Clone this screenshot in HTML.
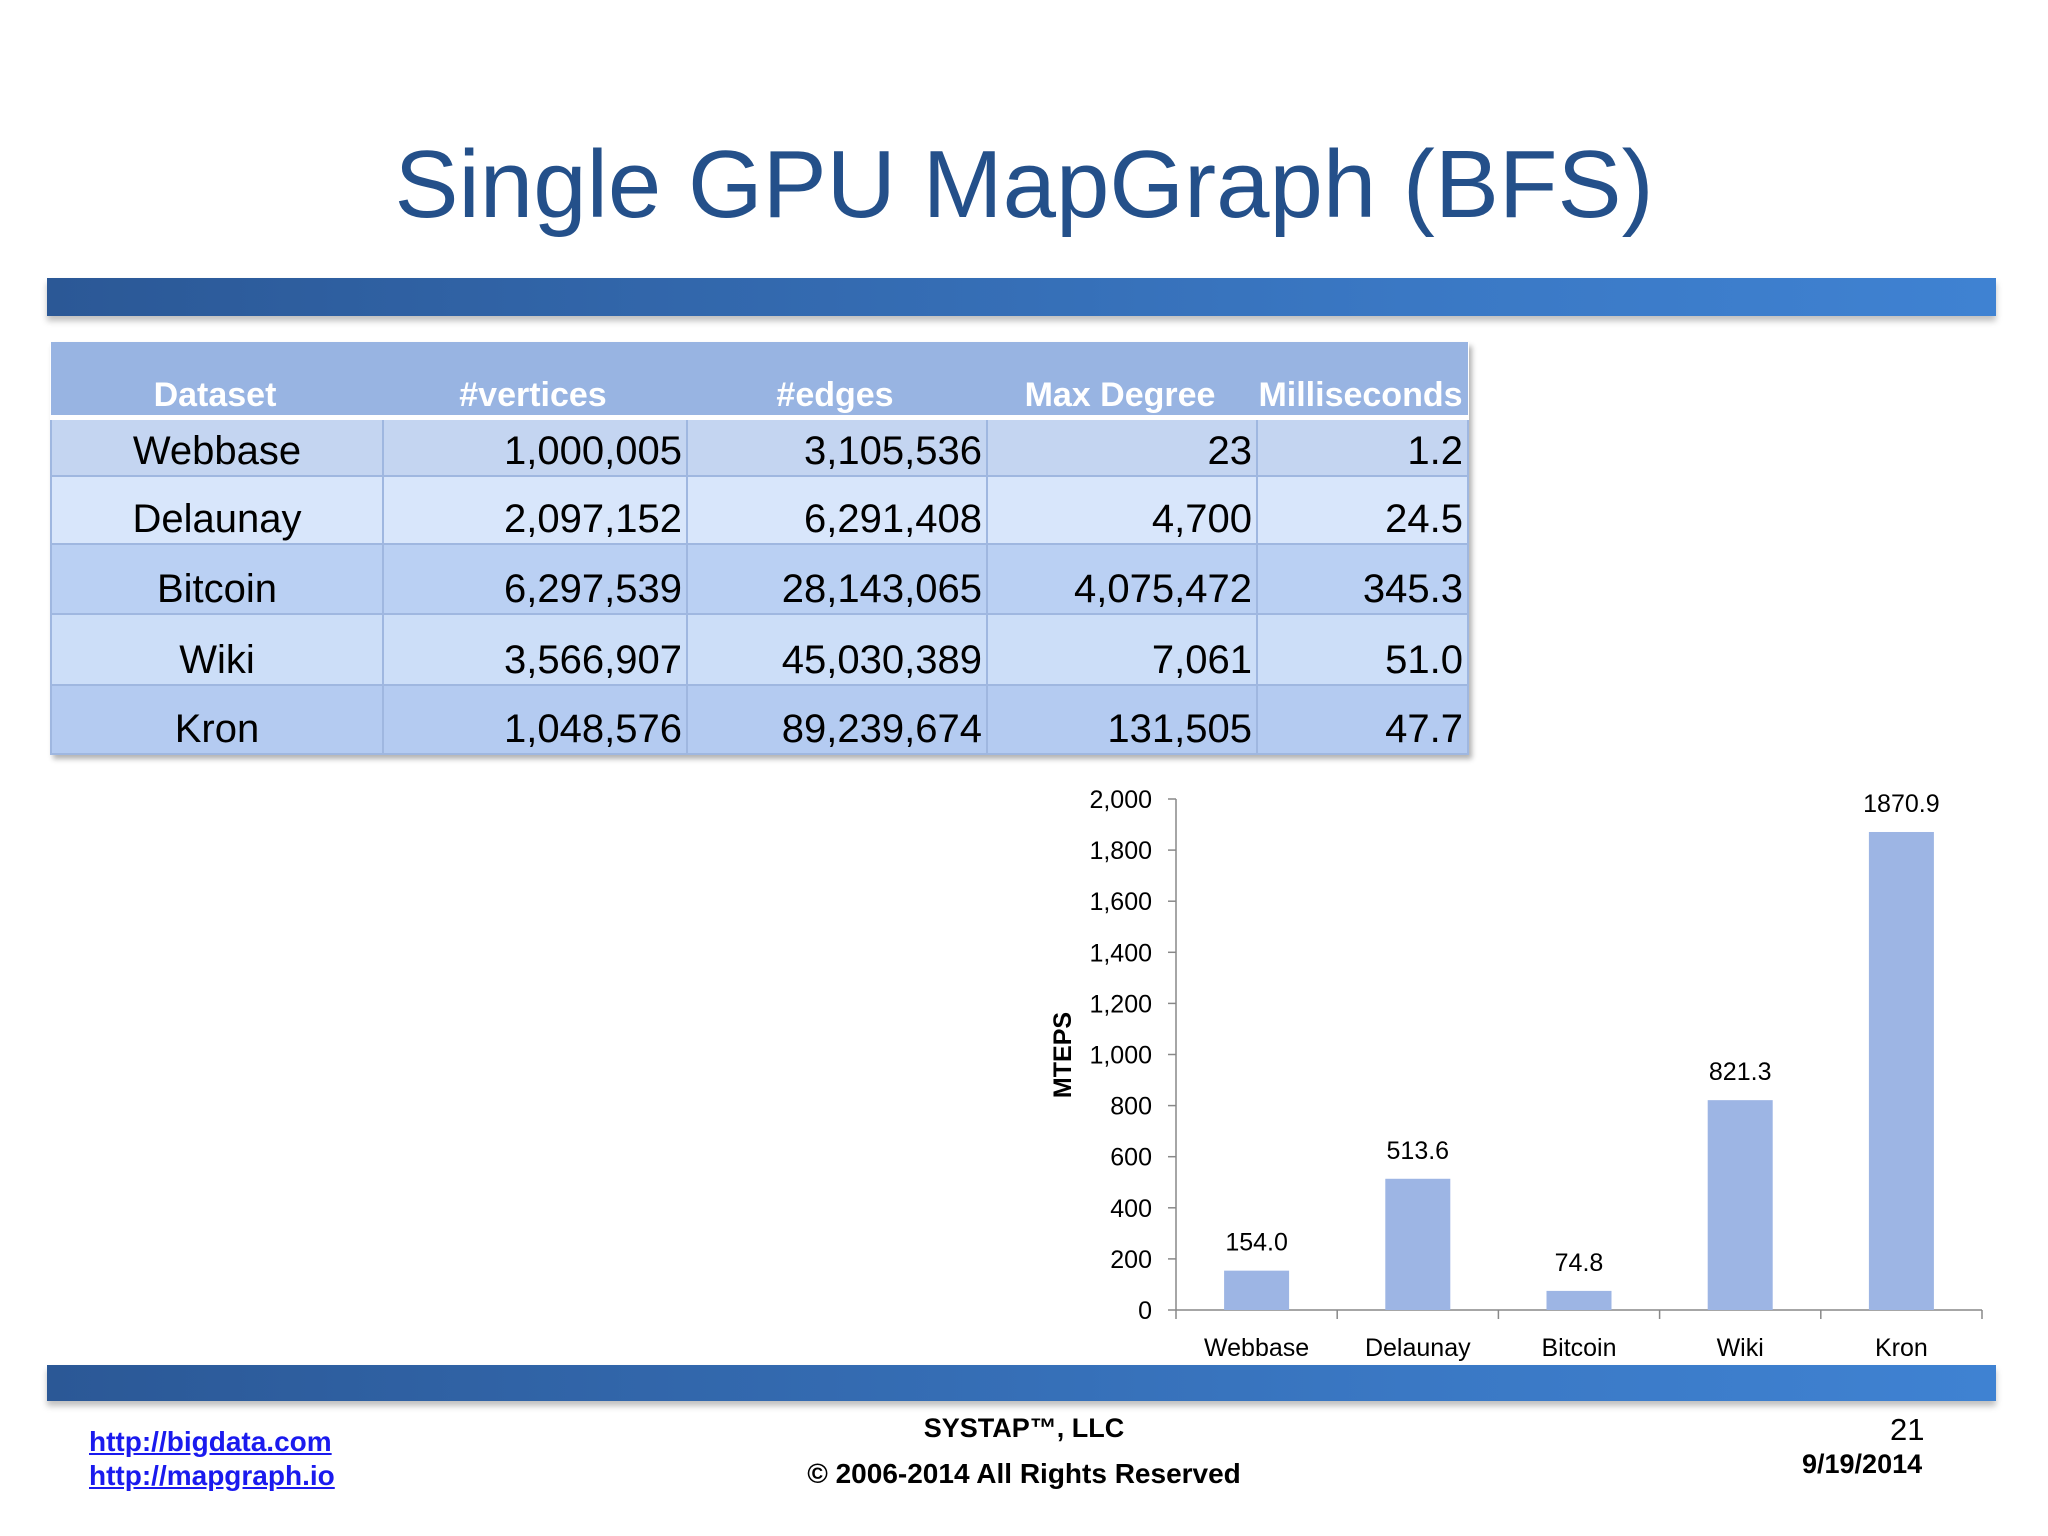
<!DOCTYPE html>
<html><head><meta charset="utf-8"><style>
body{margin:0;width:2048px;height:1536px;background:#fff;position:relative;overflow:hidden;font-family:"Liberation Sans",sans-serif}
.abs{position:absolute}
#title{left:0;width:2048px;top:130px;text-align:center;font-size:96px;color:#24508a;white-space:nowrap}
.bar{left:47px;width:1949px;height:38px;background:linear-gradient(90deg,#2b5896,#3a78c4 70%,#3f82d2);box-shadow:0 5px 6px rgba(0,0,0,0.25)}
table{position:absolute;left:50px;top:342px;width:1419px;border-collapse:collapse;table-layout:fixed;box-shadow:3px 4px 5px rgba(0,0,0,0.3);font-size:40px}
th{background:#98b4e2;color:#fff;font-size:34px;height:73px;vertical-align:bottom;padding:0 4px 0 0;border-bottom:5px solid #fff;font-weight:bold}
td{border:2px solid #9fb7e0;padding:0 4px 0 4px;text-align:right;color:#000;vertical-align:bottom;line-height:48px}
td:first-child{text-align:center}
.links a{display:block;color:#1a1aee;font-weight:bold;font-size:28px;text-decoration:underline}
</style></head><body>
<div id="title" class="abs">Single GPU MapGraph (BFS)</div>
<div class="abs bar" style="top:278px"></div>
<table>
<tr style="height:73px"><th style="width:328px;text-align:center">Dataset</th><th style="width:300px;text-align:center">#vertices</th><th style="width:296px;text-align:center">#edges</th><th style="width:266px;text-align:center">Max Degree</th><th style="text-align:center">Milliseconds</th></tr>
<tr style="height:58px;background:#c4d5f1"><td>Webbase</td><td>1,000,005</td><td>3,105,536</td><td>23</td><td>1.2</td></tr>
<tr style="height:68px;background:#d8e6fb"><td>Delaunay</td><td>2,097,152</td><td>6,291,408</td><td>4,700</td><td>24.5</td></tr>
<tr style="height:70px;background:#bad0f3"><td>Bitcoin</td><td>6,297,539</td><td>28,143,065</td><td>4,075,472</td><td>345.3</td></tr>
<tr style="height:71px;background:#ccdef8"><td>Wiki</td><td>3,566,907</td><td>45,030,389</td><td>7,061</td><td>51.0</td></tr>
<tr style="height:69px;background:#b4cbf1"><td>Kron</td><td>1,048,576</td><td>89,239,674</td><td>131,505</td><td>47.7</td></tr>
</table>
<svg id="chart" class="abs" style="left:0;top:0" width="2048" height="1536"></svg>
<div class="abs bar" style="top:1365px;height:36px"></div>
<div class="abs links" style="left:89px;top:1425px;line-height:34px">
<a>http://bigdata.com</a>
<a>http://mapgraph.io</a></div>
<div class="abs" style="left:0;width:2048px;top:1413px;text-align:center;font-weight:bold;font-size:27px">SYSTAP™, LLC</div>
<div class="abs" style="left:0;width:2048px;top:1458px;text-align:center;font-weight:bold;font-size:28px">© 2006-2014 All Rights Reserved</div>
<div class="abs" style="left:1890px;top:1412px;font-size:31px">21</div>
<div class="abs" style="left:1802px;top:1449px;font-weight:bold;font-size:27px">9/19/2014</div>
<script>
const categories=["Webbase","Delaunay","Bitcoin","Wiki","Kron"];
const values=[154.0,513.6,74.8,821.3,1870.9];
const valueLabels=["154.0","513.6","74.8","821.3","1870.9"];
const ticks=[0,200,400,600,800,1000,1200,1400,1600,1800,2000];
const tickLabels=["0","200","400","600","800","1,000","1,200","1,400","1,600","1,800","2,000"];
const svg=document.getElementById('chart');
const NS='http://www.w3.org/2000/svg';
const x0=1176,x1=1982,y0=1310,y1=799,maxV=2000;
const band=(x1-x0)/categories.length;
function y(v){return y0-(v/maxV)*(y0-y1);}
function xc(i){return x0+band*(i+0.5);}
function mk(t,a,txt){const e=document.createElementNS(NS,t);for(const k in a)e.setAttribute(k,a[k]);if(txt!==undefined)e.textContent=txt;svg.appendChild(e);return e;}
let e=mk('line',{x1:x0,y1:y1,x2:x0,y2:y0,stroke:'#888','stroke-width':1.5});


e=mk('line',{x1:x0,y1:y0,x2:x1,y2:y0,stroke:'#888','stroke-width':1.5});


ticks.forEach((t,i)=>{
 e=mk('line',{x1:x0-8,y1:y(t),x2:x0,y2:y(t),stroke:'#888','stroke-width':1.5});
 
 
 e=mk('text',{x:x0-24,y:y(t)+9,'text-anchor':'end','font-size':25,fill:'#000'},tickLabels[i]);
 
 
});
for(let i=0;i<=categories.length;i++){
 e=mk('line',{x1:x0+band*i,y1:y0,x2:x0+band*i,y2:y0+9,stroke:'#888','stroke-width':1.5});
 
 
}
categories.forEach((c,i)=>{
 const w=65;
 e=mk('rect',{x:xc(i)-w/2,y:y(values[i]),width:w,height:y0-y(values[i]),fill:'#9db5e4'});
 
 
 e=mk('text',{x:xc(i),y:y(values[i])-20,'text-anchor':'middle','font-size':25},valueLabels[i]);
 
 
 e=mk('text',{x:xc(i),y:y0+46,'text-anchor':'middle','font-size':25},c);
 
 
});
e=mk('text',{x:0,y:0,'text-anchor':'middle','font-size':25,'font-weight':'bold',transform:'translate(1071,1055) rotate(-90)'},'MTEPS');


</script>
</body></html>
